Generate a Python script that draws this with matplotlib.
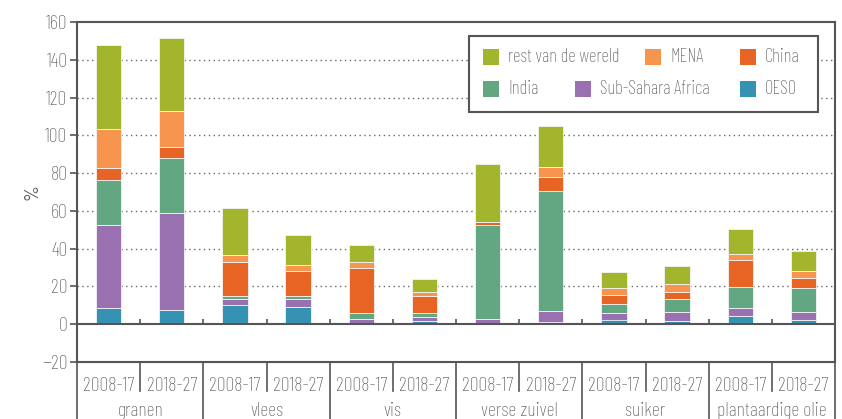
import numpy as np
import matplotlib
matplotlib.use("Agg")
import matplotlib.pyplot as plt
from matplotlib.lines import Line2D
from matplotlib.patches import Rectangle
from matplotlib import font_manager as fm

# pick a condensed face if one is around
available = {f.name for f in fm.fontManager.ttflist}
family = 'DejaVu Sans'
for cand in ['Barlow Condensed', 'Archivo Narrow', 'Asap Condensed', 'Liberation Sans Narrow']:
    if cand in available:
        family = cand
        break
plt.rcParams['font.family'] = [family, 'DejaVu Sans']
plt.rcParams['font.weight'] = 'light'

# data, segment heights per bar, bottom to top
groups = ['granen', 'vlees', 'vis', 'verse zuivel', 'suiker', 'plantaardige olie']
periods = ['2008-17', '2018-27']
series = ['OESO', 'Sub-Sahara Africa', 'India', 'China', 'MENA', 'rest van de wereld']
colors = ['#3592B3', '#9A71B0', '#63A782', '#E86425', '#F7954F', '#A3B52D']

oeso = [8.8, 7.4, 10.4, 9.2, 0.9, 1.8, 0.7, 1.4, 2.5, 1.8, 4.2, 2.1]
ssa = [43.5, 51.6, 3.2, 3.9, 2.1, 2.1, 2.3, 5.5, 3.2, 4.7, 4.6, 4.4]
india = [24.3, 28.8, 1.2, 1.7, 3.2, 1.8, 49.3, 63.6, 5.2, 6.6, 10.8, 12.9]
china = [6.2, 6.2, 18.2, 13.5, 23.8, 9.3, 1.6, 7.6, 4.6, 3.9, 14.3, 5.3]
mena = [20.3, 18.8, 3.9, 3.1, 2.8, 1.8, 0.3, 5.1, 3.7, 4.2, 3.2, 3.4]
rest = [44.5, 38.7, 24.4, 16.1, 9.4, 7.0, 30.4, 21.5, 8.2, 9.4, 13.2, 10.8]

values = [oeso, ssa, india, china, mena, rest]

W, H = 842, 419
fig = plt.figure(figsize=(W / 100, H / 100), dpi=100)
ax_px = (77, 22, 758, 340)   # left, top, width, height in pixels
ax = fig.add_axes([ax_px[0] / W, 1 - (ax_px[1] + ax_px[3]) / H, ax_px[2] / W, ax_px[3] / H])

txt = '#555555'
fsz = 14.5
n = len(groups) * len(periods)
x = np.arange(n)

bottom = np.zeros(n)
for name, vals, c in zip(series, values, colors):
    ax.bar(x, vals, width=0.4, bottom=bottom, color=c, edgecolor='#f4f4f4',
           linewidth=0.6, zorder=3, label=name)
    bottom += np.array(vals)

ax.set_xlim(-0.5, n - 0.5)
ax.set_ylim(-20, 160)
ax.set_yticks(np.arange(-20, 161, 20))
ax.set_xticks([])
ax.tick_params(axis='y', length=5, width=1.2, color=txt, labelcolor=txt, labelsize=fsz, pad=2)

for s in ax.spines.values():
    s.set_color(txt)
    s.set_linewidth(1.5)

# dotted grid
for yv in range(20, 160, 20):
    ax.axhline(yv, color='#666666', lw=1, ls=(0, (1, 2.5)), zorder=1)
ax.axhline(0, color=txt, lw=1.5, zorder=4)
ax.vlines(np.arange(n - 1) + 0.5, 0, 3, color=txt, lw=1.2, zorder=4)

ax.set_ylabel('%', color=txt, fontsize=fsz, labelpad=0)

# two-level category labels below the axis
tr = ax.get_xaxis_transform()
for i in range(n):
    ax.text(i, -0.07, periods[i % 2], transform=tr, ha='center', va='center',
            fontsize=fsz, color=txt)
for g, name in enumerate(groups):
    ax.text(2 * g + 0.5, -0.145, name, transform=tr, ha='center', va='center',
            fontsize=fsz, color=txt)
for k in range(n + 1):
    xb = k - 0.5
    y1 = -0.2 if k % 2 == 0 else -0.085
    ax.add_line(Line2D([xb, xb], [0, y1], transform=tr, color=txt, lw=1.2, clip_on=False))


# legend laid out by hand (the original flows its items, not a grid)
def px(xp, yp):
    return (xp - ax_px[0]) / ax_px[2], 1 - (yp - ax_px[1]) / ax_px[3]


fx, fy = px(469, 112)
fx2, fy2 = px(818, 36)
ax.add_patch(Rectangle((fx, fy), fx2 - fx, fy2 - fy, transform=ax.transAxes,
                       facecolor='white', edgecolor=txt, lw=1.5, zorder=5))
leg_items = [('rest van de wereld', 483, 57), ('MENA', 645, 57), ('China', 740, 57),
             ('India', 483, 89), ('Sub-Sahara Africa', 575, 89), ('OESO', 740, 89)]
sq = 16
for name, hx, hy in leg_items:
    c = colors[series.index(name)]
    x0, y0 = px(hx, hy + sq / 2)
    x1, y1 = px(hx + sq, hy - sq / 2)
    ax.add_patch(Rectangle((x0, y0), x1 - x0, y1 - y0, transform=ax.transAxes,
                           facecolor=c, edgecolor='none', zorder=6))
    tx, ty = px(hx + sq + 9, hy)
    ax.text(tx, ty, name, transform=ax.transAxes, ha='left', va='center',
            fontsize=13.5, color=txt, zorder=6)

fig.savefig('out.png', dpi=100)
